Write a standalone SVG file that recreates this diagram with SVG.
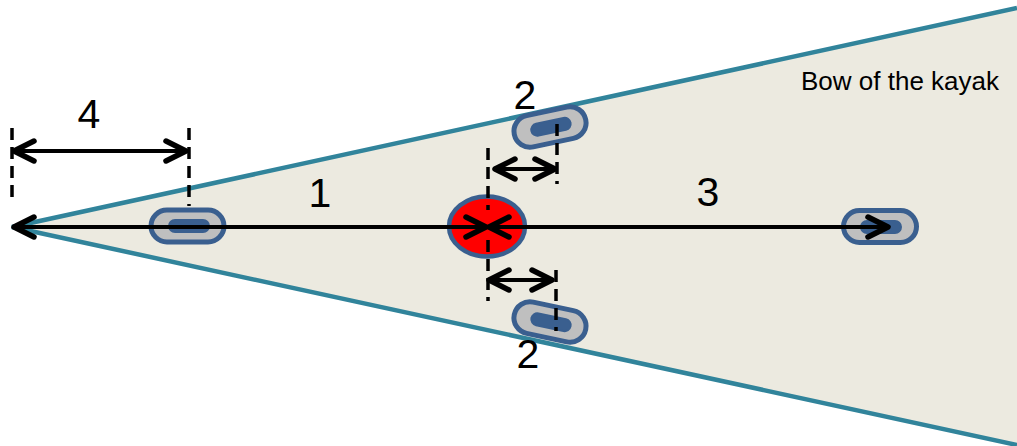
<svg xmlns="http://www.w3.org/2000/svg" width="1017" height="446" viewBox="0 0 1017 446">
<defs>
<style>
.hull{fill:#ECEAE0;stroke:none}
.edge{fill:none;stroke:#31849B;stroke-width:4.5}
.padout{fill:#BFBFBF;stroke:#3A5F8F;stroke-width:5}
.padin{fill:#3A5F8F;stroke:#3A5F8F;stroke-width:2}
.arr{fill:none;stroke:#000;stroke-width:4;marker-start:url(#ah);marker-end:url(#ah)}
.dash{fill:none;stroke:#000;stroke-width:3.5;stroke-dasharray:12 7}
.num{font-family:"Liberation Sans",Arial,sans-serif;font-size:41px;fill:#000;text-anchor:middle}
.lbl{font-family:"Liberation Sans",Arial,sans-serif;font-size:26px;fill:#000}
</style>
<marker id="ah" markerUnits="userSpaceOnUse" viewBox="-26 -15 30 30" refX="0" refY="0" markerWidth="30" markerHeight="30" orient="auto-start-reverse">
<path d="M-20,-10 L0,0 L-20,10" fill="none" stroke="#000" stroke-width="5.5" stroke-linecap="round" stroke-linejoin="round"/>
</marker>
</defs>
<g id="hull">
<polygon class="hull" points="12,227 1017,8 1017,446"/>
<polyline class="edge" points="1017,8 12,227 1017,445"/>
</g>
<g id="seat">
<ellipse cx="487" cy="226.5" rx="38" ry="30" fill="#FF0000" stroke="#3A5F8F" stroke-width="4.5"/>
</g>
<g id="pad-rear">
<rect class="padout" x="151" y="210" width="73" height="32" rx="16"/>
<rect class="padin" x="169" y="220" width="40" height="12" rx="6"/>
</g>
<g id="pad-front">
<rect class="padout" x="843.5" y="210.5" width="73" height="32" rx="16"/>
<rect class="padin" x="861" y="221" width="40" height="12" rx="6"/>
</g>
<g id="pad-top" transform="rotate(-12 550 127)">
<rect class="padout" x="513.5" y="111" width="73" height="32" rx="16"/>
<rect class="padin" x="531" y="121" width="40" height="12" rx="6"/>
</g>
<g id="pad-bottom" transform="rotate(12 550 322)">
<rect class="padout" x="513.5" y="306" width="73" height="32" rx="16"/>
<rect class="padin" x="531" y="316" width="40" height="12" rx="6"/>
</g>
<g id="connectors">
<line class="dash" x1="12" y1="128" x2="12" y2="204"/>
<line class="dash" x1="189" y1="128" x2="189" y2="206"/>
<line class="dash" x1="488" y1="148" x2="488" y2="210"/>
<line class="dash" x1="488" y1="240" x2="488" y2="301"/>
<line class="dash" x1="557" y1="124" x2="557" y2="184"/>
<line class="dash" x1="556" y1="270" x2="556" y2="331"/>
<line class="arr" x1="14" y1="151" x2="186" y2="151"/>
<line class="arr" x1="495" y1="169" x2="555" y2="169"/>
<line class="arr" x1="489" y1="280" x2="552" y2="280"/>
<line class="arr" x1="14" y1="227" x2="486" y2="227"/>
<line class="arr" x1="489" y1="227" x2="888" y2="227"/>
</g>
<g id="labels">
<text class="num" x="89" y="128">4</text>
<text class="num" x="320" y="207">1</text>
<text class="num" x="708" y="206">3</text>
<text class="num" x="525" y="109">2</text>
<text class="num" x="528" y="368">2</text>
<text class="lbl" x="801" y="90">Bow of the kayak</text>
</g>
</svg>
